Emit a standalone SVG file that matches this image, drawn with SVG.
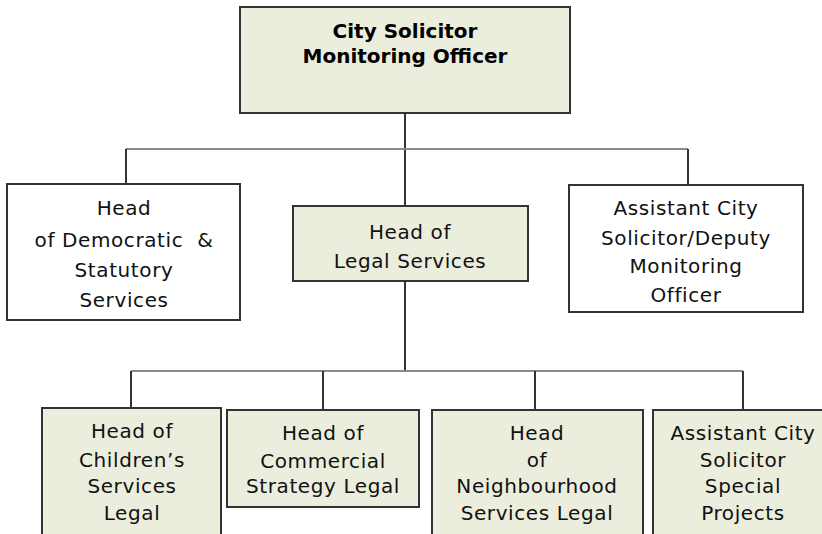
<svg xmlns="http://www.w3.org/2000/svg" width="822" height="534" viewBox="0 0 822 534">
  <style>
    .box { stroke: #333333; stroke-width: 2; }
    .tint { fill: #ebeedd; }
    .plain { fill: #ffffff; }
    .lbl { font-family: "DejaVu Sans", "Liberation Sans", sans-serif; font-size: 20px; fill: #111111; text-anchor: middle; letter-spacing: 0.6px; }
    .head { font-family: "DejaVu Sans", "Liberation Sans", sans-serif; font-size: 20px; font-weight: bold; fill: #000000; text-anchor: middle; }
    .v { stroke: #333333; stroke-width: 2; fill: none; }
    .h { stroke: #8a8a8a; stroke-width: 2; fill: none; }
  </style>
  <rect width="822" height="534" fill="#ffffff"/>

  <g id="connectors">
    <line class="v" x1="405" y1="113" x2="405" y2="206"/>
    <line class="h" x1="126" y1="149" x2="688" y2="149"/>
    <line class="v" x1="126" y1="149" x2="126" y2="184"/>
    <line class="v" x1="688" y1="149" x2="688" y2="185"/>
    <line class="v" x1="405" y1="281" x2="405" y2="371"/>
    <line class="h" x1="131" y1="371" x2="743" y2="371"/>
    <line class="v" x1="131" y1="371" x2="131" y2="408"/>
    <line class="v" x1="323" y1="371" x2="323" y2="410"/>
    <line class="v" x1="535" y1="371" x2="535" y2="410"/>
    <line class="v" x1="743" y1="371" x2="743" y2="410"/>
  </g>

  <g id="city-solicitor">
    <rect class="box tint" x="240" y="7" width="330" height="106"/>
    <text class="head" x="405" y="38">City Solicitor</text>
    <text class="head" x="405" y="63">Monitoring Officer</text>
  </g>

  <g id="head-democratic">
    <rect class="box plain" x="7" y="184" width="233" height="136"/>
    <text class="lbl" x="124" y="215">Head</text>
    <text class="lbl" x="124" y="247" xml:space="preserve">of Democratic  &amp;</text>
    <text class="lbl" x="124" y="277">Statutory</text>
    <text class="lbl" x="124" y="307">Services</text>
  </g>

  <g id="head-legal">
    <rect class="box tint" x="293" y="206" width="235" height="75"/>
    <text class="lbl" x="410" y="239">Head of</text>
    <text class="lbl" x="410" y="268">Legal Services</text>
  </g>

  <g id="deputy-monitoring">
    <rect class="box plain" x="569" y="185" width="234" height="127"/>
    <text class="lbl" x="686" y="215">Assistant City</text>
    <text class="lbl" x="686" y="245">Solicitor/Deputy</text>
    <text class="lbl" x="686" y="273">Monitoring</text>
    <text class="lbl" x="686" y="302">Officer</text>
  </g>

  <g id="head-childrens">
    <rect class="box tint" x="42" y="408" width="179" height="140"/>
    <text class="lbl" x="132" y="438">Head of</text>
    <text class="lbl" x="132" y="467">Children’s</text>
    <text class="lbl" x="132" y="493">Services</text>
    <text class="lbl" x="132" y="520">Legal</text>
  </g>

  <g id="head-commercial">
    <rect class="box tint" x="227" y="410" width="192" height="97"/>
    <text class="lbl" x="323" y="440">Head of</text>
    <text class="lbl" x="323" y="468">Commercial</text>
    <text class="lbl" x="323" y="493">Strategy Legal</text>
  </g>

  <g id="head-neighbourhood">
    <rect class="box tint" x="432" y="410" width="211" height="140"/>
    <text class="lbl" x="537" y="440">Head</text>
    <text class="lbl" x="537" y="467">of</text>
    <text class="lbl" x="537" y="493">Neighbourhood</text>
    <text class="lbl" x="537" y="520">Services Legal</text>
  </g>

  <g id="special-projects">
    <rect class="box tint" x="653" y="410" width="180" height="140"/>
    <text class="lbl" x="743" y="440">Assistant City</text>
    <text class="lbl" x="743" y="467">Solicitor</text>
    <text class="lbl" x="743" y="493">Special</text>
    <text class="lbl" x="743" y="520">Projects</text>
  </g>
</svg>
